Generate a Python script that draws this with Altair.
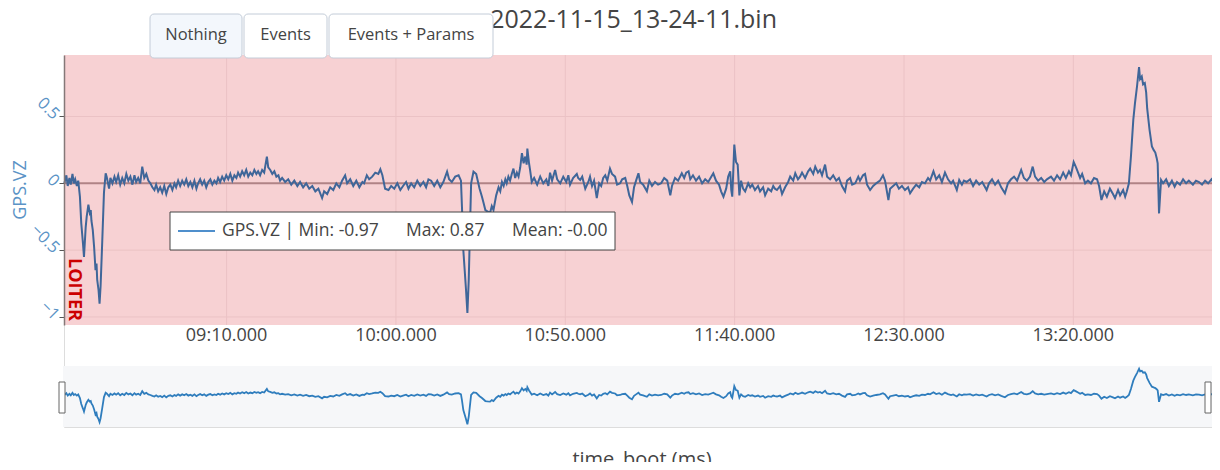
import altair as alt
import pandas as pd

# ---------------- data ----------------
t_s = [
    502.1, 502.7, 503.1, 503.6, 504.0, 504.5, 504.9, 505.3, 505.8, 506.2,
    506.7, 507.1, 507.6, 507.9, 508.4, 508.7, 509.2, 509.6, 509.9, 510.1,
    510.5, 510.9, 511.3, 511.6, 511.8, 512.2, 512.5, 512.8, 513.3, 513.8,
    514.3, 514.6, 515.3, 515.7, 516.3, 516.9, 517.4, 518.0, 518.6, 519.2,
    519.8, 520.4, 521.0, 521.6, 522.2, 522.8, 523.3, 523.9, 524.5, 525.1,
    525.7, 526.3, 526.9, 527.5, 528.1, 528.7, 529.2, 529.8, 530.4, 531.0,
    531.6, 532.2, 532.8, 533.4, 534.0, 534.6, 535.1, 535.7, 536.3, 536.9,
    537.5, 538.1, 538.7, 539.3, 539.9, 540.5, 541.1, 541.6, 542.2, 542.8,
    543.4, 544.0, 544.6, 545.2, 545.8, 546.4, 547.0, 547.5, 548.1, 548.7,
    549.3, 549.9, 550.5, 551.1, 551.7, 552.3, 552.9, 553.4, 554.0, 554.6,
    555.2, 555.8, 556.4, 557.0, 557.6, 558.2, 558.8, 559.3, 559.9,
    560.5, 561.1, 561.9, 562.3, 562.9, 563.5, 564.1, 564.7, 565.3, 565.8,
    566.4, 567.3, 568.2, 569.1, 570.0, 570.9, 571.7, 572.6, 573.5, 574.4,
    575.3, 576.2, 577.1, 578.2, 578.8, 579.7, 580.6, 581.5, 582.4, 583.3,
    584.1, 585.0, 585.6, 586.5, 587.4, 588.3, 589.2, 590.1, 590.6, 591.4,
    592.1, 593.0, 593.9, 594.8, 595.4, 596.0, 596.8, 597.8, 598.6, 599.5,
    600.4, 601.3, 602.1, 603.0, 603.7, 604.5, 605.4, 606.3, 607.2, 608.1,
    608.9, 609.6, 610.4, 611.3, 612.2, 613.1, 614.0, 615.1, 615.7, 616.5,
    617.5,
    618.5, 619.2, 619.5, 619.9, 620.7, 621.1, 621.5, 621.9, 622.2, 622.9,
    623.7, 624.7, 625.4, 625.9, 626.4, 627.0, 627.8, 628.3, 628.8, 629.6,
    630.3, 630.8, 631.3, 631.8, 632.3, 632.7, 633.2, 633.7, 634.2, 634.7,
    635.2, 635.7, 636.2, 636.7, 637.2, 637.7, 638.2, 638.6, 638.8, 639.3,
    639.6, 640.1, 640.8, 641.7, 642.6, 643.5, 644.4, 645.0, 645.5, 646.1,
    647.0, 647.6, 648.5, 649.4, 650.3, 650.9, 651.4, 652.3, 653.4,
    653.8, 654.4, 655.0, 655.9, 656.8, 657.3, 657.9, 658.5, 659.3, 660.0,
    660.6, 661.2, 661.8, 662.4, 663.2, 663.8, 664.7, 665.3, 666.2, 666.8,
    667.7, 668.3, 668.9, 669.7, 670.3, 670.9, 671.6, 672.1, 673.0, 674.1,
    674.8, 675.6, 676.5, 677.4, 678.3, 679.2, 680.1, 681.0, 681.5, 682.4,
    683.3, 684.4, 685.1, 685.7, 686.4, 686.9, 687.7, 688.6, 689.5, 690.4,
    691.3, 692.2, 693.1, 693.7, 694.5, 695.4, 696.0, 696.7, 697.5, 698.1,
    698.7, 699.0, 699.3, 699.9, 700.4, 700.9, 701.4, 701.9, 702.5, 703.1,
    704.0, 704.6, 705.2, 706.0, 706.9, 707.5, 708.4, 709.0, 709.9, 710.8,
    711.4, 711.9,
    712.5, 713.4, 714.0, 714.9, 715.8, 716.4, 717.3, 717.9, 718.7, 719.3,
    719.9, 720.8, 721.7, 722.3, 723.2, 723.8, 724.6, 725.2, 725.8, 726.7,
    727.3, 728.2, 729.1, 730.0, 730.8, 731.7, 732.6, 733.2, 734.1, 734.7,
    735.6, 736.5, 737.0, 737.9, 738.5, 739.1, 740.0, 740.9, 741.8, 742.9,
    743.8, 744.4, 745.4, 745.9, 746.8, 747.7, 748.5, 749.4, 750.3, 751.2,
    751.8, 752.7, 753.6, 754.5, 755.3, 756.2, 757.1, 757.7, 758.7, 759.5,
    760.4, 761.2, 762.1, 763.0, 763.9, 764.5, 765.6, 766.3, 767.1, 767.7,
    768.5,
    769.5, 770.4, 771.3, 772.2, 773.1, 774.4, 775.1, 776.0, 776.9, 777.8,
    778.7, 779.8, 780.7, 781.6, 782.5, 783.4, 784.6, 785.4, 786.3, 787.2,
    788.0, 788.7, 789.6, 790.5, 791.4, 792.2, 793.4, 794.3, 795.2, 796.1,
    797.0, 797.8, 798.7, 799.3, 800.1, 800.8, 801.4, 802.0, 802.6, 803.5,
    804.3, 805.2, 806.1, 807.0, 807.6, 808.3, 809.1, 809.9, 810.8, 811.7,
    812.3, 813.2, 813.8, 814.7, 815.3, 815.8, 816.4, 817.0, 817.7, 818.2,
    818.8, 819.4, 819.7, 820.2, 820.6, 821.1, 821.5, 821.8, 822.5, 823.2,
    823.7, 824.2, 824.6, 824.9, 825.3, 825.9, 826.5, 827.4, 828.2, 829.1,
    829.9, 830.6, 831.5, 832.4, 833.3, 834.1, 835.3, 836.2, 837.1, 838.0,
    838.9, 839.8, 840.8, 841.5, 842.4, 843.2,
]

gps_vz = [
    0.0, 0.06, -0.02, 0.04, -0.01, 0.07, 0.0, 0.03, -0.02, 0.02,
    -0.1, -0.3, -0.45, -0.55, -0.33, -0.25, -0.16, -0.22, -0.2, -0.28,
    -0.35, -0.48, -0.65, -0.6, -0.72, -0.8, -0.9, -0.77, -0.43, -0.07,
    0.075, 0.05, -0.04, 0.04, 0.0, 0.05, 0.01, 0.06, -0.01, 0.04,
    0.0, 0.07, 0.02, 0.05, -0.01, 0.06, 0.01, 0.04, 0.0, 0.125,
    0.04, 0.07, 0.02, 0.0, -0.03, -0.05, -0.01, -0.06, -0.03, -0.07,
    -0.02, -0.08, -0.03, -0.01, -0.05, 0.0, -0.03, 0.02, -0.02, 0.02,
    -0.01, 0.03, -0.02, 0.01, -0.03, 0.02, -0.04, 0.0, 0.03, -0.01,
    0.02, -0.03, 0.01, 0.03, -0.01, 0.02, 0.0, 0.04, 0.01, 0.05,
    0.02, 0.06, 0.03, 0.07, 0.02, 0.06, 0.04, 0.08, 0.05, 0.09,
    0.06, 0.1, 0.05, 0.08, 0.06, 0.1, 0.07, 0.09, 0.06,
    0.1, 0.08, 0.2, 0.12, 0.1, 0.07, 0.09, 0.05, 0.06, 0.02,
    0.04, 0.01, 0.03, -0.01, 0.02, -0.02, 0.01, -0.03, 0.0, -0.04,
    -0.02, -0.06, -0.04, -0.11, -0.06, -0.08, -0.03, -0.05, 0.0, -0.03,
    0.02, 0.06, 0.0, 0.03, -0.02, 0.02, -0.03, 0.01, 0.0, 0.06,
    0.03, 0.05, 0.08, 0.07, 0.105, 0.06, -0.04, -0.05, -0.02, -0.04,
    0.0, -0.05, -0.02, 0.01, -0.04, 0.0, -0.03, 0.02, -0.02, 0.01,
    -0.03, 0.03, 0.02, -0.02, 0.02, -0.03, 0.01, 0.087, 0.03, 0.01,
    0.05,
    0.06, 0.02, -0.18, -0.5, -0.8, -0.97, -0.72, -0.3, 0.0, 0.087,
    0.07, -0.04, -0.1, -0.15, -0.2, -0.21, -0.22, -0.17, -0.2, -0.09,
    -0.03, -0.06, 0.01, -0.02, 0.03, 0.0, 0.05, 0.02, 0.07, 0.11,
    0.04, 0.08, 0.05, 0.12, 0.225, 0.15, 0.2, 0.14, 0.26, 0.15,
    0.1, 0.01, 0.04, -0.01, 0.05, 0.0, 0.03, -0.02, 0.08, 0.02,
    0.1, 0.03, 0.0, 0.05, 0.01, 0.06, -0.01, 0.04, 0.07,
    0.04, 0.025, 0.05, -0.04, 0.01, 0.05, -0.02, 0.02, -0.11, 0.0,
    -0.02, 0.04, 0.06, 0.02, 0.11, 0.07, 0.05, -0.01, 0.0, 0.03,
    0.04, -0.02, -0.09, -0.14, -0.03, 0.02, 0.075, 0.01, -0.01, -0.06,
    0.02, -0.02, 0.01, -0.01, 0.0, 0.04, 0.02, -0.09, -0.02, 0.04,
    0.02, 0.075, 0.04, 0.08, 0.09, 0.03, 0.06, 0.02, 0.05, 0.0,
    0.03, 0.01, 0.05, 0.075, 0.02, -0.01, -0.06, -0.1, -0.04, 0.05,
    0.09, -0.05, -0.1, 0.29, 0.16, 0.14, -0.09, 0.02, -0.04, -0.06,
    0.0, -0.03, -0.01, -0.05, -0.02, -0.06, -0.03, -0.09, -0.04, -0.06,
    -0.02, -0.04,
    -0.05, -0.02, -0.08, -0.03, 0.01, 0.05, 0.02, 0.075, 0.03, 0.05,
    0.08, 0.04, 0.09, 0.11, 0.07, 0.125, 0.08, 0.1, 0.06, 0.14,
    0.05, 0.03, 0.06, 0.02, 0.04, -0.02, -0.06, 0.02, 0.04, -0.01,
    0.0, 0.05, 0.02, 0.06, 0.07, -0.01, -0.05, -0.02, 0.0, 0.02,
    0.06, 0.02, -0.125, -0.04, -0.02, 0.0, -0.04, -0.02, -0.05, -0.03,
    -0.075, -0.04, -0.01, -0.03, 0.01, 0.0, 0.04, 0.02, 0.09, 0.03,
    0.06, 0.01, 0.08, 0.03, 0.0, 0.02, -0.05, 0.025, -0.01, 0.02,
    0.01,
    0.03, -0.02, 0.02, -0.01, 0.01, -0.05, 0.0, 0.03, -0.01, 0.02,
    -0.03, -0.075, 0.0, 0.03, 0.05, 0.02, 0.1, 0.04, 0.02, 0.05,
    0.125, 0.05, 0.02, 0.04, 0.01, 0.03, 0.05, 0.02, 0.06, 0.03,
    0.08, 0.04, 0.09, 0.06, 0.16, 0.12, 0.08, 0.04, 0.07, 0.0,
    0.02, 0.0, 0.04, 0.03, -0.02, -0.125, -0.06, -0.1, -0.04, -0.08,
    -0.11, -0.05, -0.09, -0.05, -0.1, -0.06, 0.0, 0.2, 0.475, 0.6,
    0.725, 0.87, 0.78, 0.8, 0.74, 0.75, 0.68, 0.56, 0.4, 0.275,
    0.25, 0.23, 0.19, 0.15, -0.225, 0.025, 0.0, 0.03, -0.02, 0.02,
    -0.025, 0.01, -0.01, 0.03, 0.0, 0.02, -0.01, 0.02, 0.01, -0.01,
    0.02, 0.0, 0.03, 0.0, 0.02, 0.01,
]

x_tick_values = [550, 600, 650, 700, 750, 800]
x_tick_labels = ["09:10.000", "10:00.000", "10:50.000", "11:40.000", "12:30.000", "13:20.000"]
y_tick_values = [-1, -0.5, 0, 0.5]
y_grid_values = [-1, -0.5, 0.5]
x_domain = [502.0, 843.3]
y_domain = [-1.06, 0.96]

title_text = "2022-11-15_13-24-11.bin"
button_labels = ["Nothing", "Events", "Events + Params"]
legend_parts = ["GPS.VZ | Min: -0.97", "Max: 0.87", "Mean: -0.00"]
mode_label = "LOITER"
y_title = "GPS.VZ"
x_title = "time_boot (ms)"

# ---------------- layout constants (pixels inside the view) ----------------
W = 1156
H = 372
MAIN_H = 270
SL_TOP = 311
SL_BOT = 372

n = min(len(t_s), len(gps_vz))
df = pd.DataFrame({"t": t_s[:n], "vz": gps_vz[:n]})
df_xt = pd.DataFrame({"t": x_tick_values, "label": x_tick_labels})
df_yg = pd.DataFrame({"v": y_grid_values})
df_zero = pd.DataFrame({"v": [0]})
one = pd.DataFrame({"k": [0]})


def xs():
    return alt.Scale(domain=x_domain, nice=False, zero=False)


def ys_main():
    return alt.Scale(domain=y_domain, range=[MAIN_H, 0], nice=False, zero=False)


def ys_slider():
    return alt.Scale(domain=y_domain, range=[SL_BOT, SL_TOP], nice=False, zero=False)


def box(x0, x1, y0, y1, **kw):
    return alt.Chart(one).mark_rect(**kw).encode(
        x=alt.value(x0), x2=alt.value(x1), y=alt.value(y0), y2=alt.value(y1)
    )


def label(txt, x, y, **kw):
    return alt.Chart(one).mark_text(**kw).encode(
        x=alt.value(x), y=alt.value(y), text=alt.value(txt)
    )


bg = box(0, W, 0, MAIN_H, color="#f7d1d3")

vgrid = alt.Chart(df_xt).mark_rule(color="#ebc2c5", strokeWidth=1).encode(
    x=alt.X("t:Q", scale=xs(), axis=None), y=alt.value(0), y2=alt.value(MAIN_H)
)
hgrid = alt.Chart(df_yg).mark_rule(color="#ebc2c5", strokeWidth=1).encode(
    y=alt.Y("v:Q", scale=ys_main(), axis=None), x=alt.value(0), x2=alt.value(W)
)
zero_line = alt.Chart(df_zero).mark_rule(color="#b08386", strokeWidth=2).encode(
    y=alt.Y("v:Q", scale=ys_main(), axis=None), x=alt.value(0), x2=alt.value(W)
)

main_line = alt.Chart(df).mark_line(color="#3f6699", strokeWidth=2).encode(
    x=alt.X("t:Q", scale=xs(), axis=None),
    y=alt.Y(
        "vz:Q",
        scale=ys_main(),
        axis=alt.Axis(
            values=y_tick_values,
            format="~g",
            labelAngle=45,
            labelAlign="right",
            labelBaseline="middle",
            labelColor="#5b93c6",
            labelFontSize=16.5,
            labelPadding=3,
            tickColor="#555",
            tickSize=5,
            domainColor="#857878",
            domainWidth=1.5,
            grid=False,
            title=None,
            zindex=2,
        ),
    ),
)

x_labels = alt.Chart(df_xt).mark_text(fontSize=18, color="#444", baseline="middle").encode(
    x=alt.X("t:Q", scale=xs(), axis=None), y=alt.value(281), text="label:N"
)

y_title_mark = label(y_title, -43, 135, angle=270, fontSize=18, color="#5b93c6",
                     align="center", baseline="middle")

mode_mark = label(mode_label, 10, 203, angle=90, fontSize=18, fontWeight="bold",
                  color="#cc0000", align="left", baseline="middle")

# legend box
legend_box = box(106, 551, 157, 195, fill="white", stroke="#444", strokeWidth=1)
legend_sample = alt.Chart(one).mark_rule(color="#4f8fcc", strokeWidth=2).encode(
    x=alt.value(114), x2=alt.value(151), y=alt.value(176)
)
leg1 = label(legend_parts[0], 158, 176, fontSize=17.5, color="#444", align="left", baseline="middle")
leg2 = label(legend_parts[1], 342, 176, fontSize=17.5, color="#444", align="left", baseline="middle")
leg3 = label(legend_parts[2], 448, 176, fontSize=17.5, color="#444", align="left", baseline="middle")

# range slider
slider_bg = box(-1, W - 2, SL_TOP, SL_BOT, color="#f6f7f9")
slider_line = alt.Chart(df).mark_line(color="#2f7dbd", strokeWidth=1.8).encode(
    x=alt.X("t:Q", scale=xs(), axis=None),
    y=alt.Y("vz:Q", scale=ys_slider(), axis=None),
)
handle_l = box(-5, 1, 327, 358, fill="white", stroke="#666", strokeWidth=1)
handle_r = box(W - 15, W - 9, 327, 358, fill="white", stroke="#666", strokeWidth=1)

x_title_mark = label(x_title, 578, 395, fontSize=20, color="#444", align="center", baseline="top")

# title + buttons
title_mark = label(title_text, 713, -35, fontSize=25, color="#444", align="right", baseline="middle")
btn1 = box(86, 178, -41, 3, fill="#f3f7fc", stroke="#c3ccd8", strokeWidth=1, cornerRadius=4)
btn2 = box(180, 263, -41, 3, fill="white", stroke="#c3ccd8", strokeWidth=1, cornerRadius=4)
btn3 = box(265, 429, -41, 3, fill="white", stroke="#c3ccd8", strokeWidth=1, cornerRadius=4)
bt1 = label(button_labels[0], 132, -20, fontSize=16.5, color="#444", align="center", baseline="middle")
bt2 = label(button_labels[1], 221.5, -20, fontSize=16.5, color="#444", align="center", baseline="middle")
bt3 = label(button_labels[2], 347, -20, fontSize=16.5, color="#444", align="center", baseline="middle")

chart = alt.layer(
    bg, vgrid, hgrid, zero_line, main_line, x_labels, y_title_mark, mode_mark,
    legend_box, legend_sample, leg1, leg2, leg3,
    slider_bg, slider_line, handle_l, handle_r, x_title_mark,
    title_mark, btn1, btn2, btn3, bt1, bt2, bt3,
).resolve_scale(y="independent").properties(
    width=W,
    height=H,
    autosize=alt.AutoSizeParams(type="none"),
    padding={"left": 56, "top": 47, "right": -8, "bottom": 35},
).configure_view(stroke=None).configure(font="Open Sans")

chart.save("out.html", embed_options={"renderer": "svg", "actions": False})
